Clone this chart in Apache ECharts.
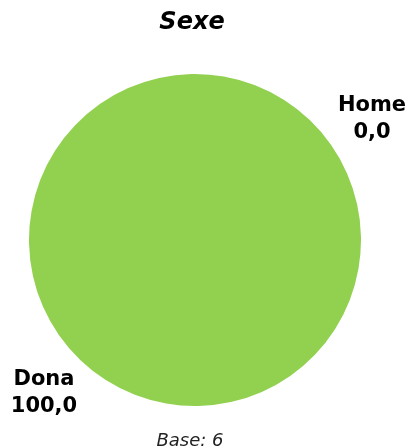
<!DOCTYPE html>
<html>
<head>
<meta charset="utf-8">
<script src="https://cdn.jsdelivr.net/npm/echarts@6/dist/echarts.min.js"></script>
<style>
html,body{margin:0;padding:0;background:#fff;}
#chart{width:410px;height:448px;}
</style>
</head>
<body>
<div id="chart"></div>
<script>
const categories = ['Home', 'Dona'];
const values = [0.0, 100.0];
const titleText = 'Sexe';
const baseText = 'Base: 6';
const colors = ['#4472C4', '#92D050'];

const labelPos = [[372, 119], [44, 393]];

const chart = echarts.init(document.getElementById('chart'));
const fmt = v => v.toFixed(1).replace('.', ',');
chart.setOption({
  animation: false,
  title: [{
    text: titleText,
    left: 187, top: 6, textAlign: 'center',
    textStyle: {fontFamily: 'DejaVu Sans', fontSize: 24, fontWeight: 'bold', fontStyle: 'italic', color: '#000'}
  }, {
    text: baseText,
    left: 185, top: 427, textAlign: 'center',
    textStyle: {fontFamily: 'DejaVu Sans', fontSize: 18, fontWeight: 'normal', fontStyle: 'italic', color: '#222'}
  }],
  series: [{
    type: 'pie',
    center: [195, 240],
    radius: 166,
    startAngle: 35,
    clockwise: true,
    minAngle: 0,
    stillShowZeroSum: true,
    avoidLabelOverlap: false,
    data: categories.map((c, i) => ({name: c, value: values[i], itemStyle: {color: colors[i]}})),
    itemStyle: {borderWidth: 0},
    label: {
      show: true,
      position: 'outside',
      formatter: p => p.name + '\n' + fmt(p.value),
      fontFamily: 'DejaVu Sans', fontSize: 21, fontWeight: 'bold', color: '#000',
      lineHeight: 27, align: 'center'
    },
    labelLine: {show: false},
    labelLayout: p => ({x: labelPos[p.dataIndex][0], y: labelPos[p.dataIndex][1], align: 'center', verticalAlign: 'middle'}),
    emphasis: {disabled: true}
  }]
});
</script>
</body>
</html>
